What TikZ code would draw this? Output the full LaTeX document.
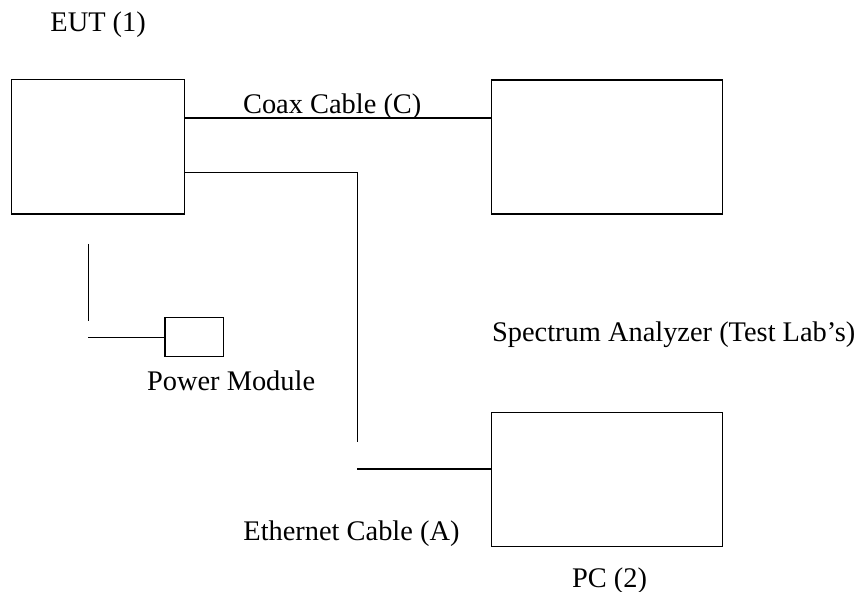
\documentclass[tikz,border=0pt]{standalone}
\usepackage{fontspec}
\setmainfont{Liberation Serif}
\usetikzlibrary{calc, positioning}
\definecolor{LabInk}{HTML}{000000}

\begin{document}
\begin{tikzpicture}[
    x=0.5pt, y=-0.5pt,
    font=\fontsize{14.2}{17}\selectfont,
    % Equipment Styles
    unit/.style={draw=LabInk, line width=0.6pt, rectangle, inner sep=0pt},
    label/.style={anchor=base west, inner sep=0pt, text=LabInk},
    % Cable Styles
    cable/.style={draw=LabInk, line width=0.6pt}
]
    \useasboundingbox (0,0) rectangle (865,592);

    % ==========================================
    % EQUIPMENT
    % ==========================================
    \node[unit, minimum width=86.3pt, minimum height=67.4pt] (EUT) at (98,146.7) {};
    \node[unit, minimum width=115.2pt, minimum height=67pt] (SA) at (606.9,147) {};
    \node[unit, minimum width=115.3pt, minimum height=66.7pt] (PC) at (607,479.4) {};
    \node[unit, minimum width=29.2pt, minimum height=19.5pt] (PWR) at (194.2,337.3) {};

    % ==========================================
    % CABLE POINTS
    % ==========================================
    \coordinate (coaxY) at (0,118);
    \coordinate (ethBend) at (357.3,172.7);
    \coordinate (ethEnd) at (357.3,441.7);
    \coordinate (ethStart) at (357.3,469);
    \coordinate (pwrTop) at (88.3,244);
    \coordinate (pwrBot) at (88.3,320.7);
    \coordinate (pwrStart) at (88.3,337.3);

    % Coax Cable (C)
    \draw[cable] (EUT.east |- coaxY) -- (SA.west |- coaxY);

    % Ethernet Cable (A)
    \draw[cable] (EUT.east |- ethBend) -- (ethBend) -- (ethEnd);
    \draw[cable] (ethStart) -- (PC.west |- ethStart);

    % Power lead
    \draw[cable] (pwrTop) -- (pwrBot);
    \draw[cable] (pwrStart) -- (PWR.west |- pwrStart);

    % ==========================================
    % LABELS
    % ==========================================
    \node[label] (eutLabel) at (50,31.7) {EUT (1)};
    \node[label] (coaxLabel) at (242.7,113.3) {Coax Cable (C)};
    \node[label] (saLabel) at (491.7,341.7) {Spectrum Analyzer (Test Lab’s)};
    \node[label] (pwrLabel) at (146.7,390) {Power Module};
    \node[label] (ethLabel) at (243,540) {Ethernet Cable (A)};
    \node[label] (pcLabel) at (571.7,587) {PC (2)};

\end{tikzpicture}
\end{document}
